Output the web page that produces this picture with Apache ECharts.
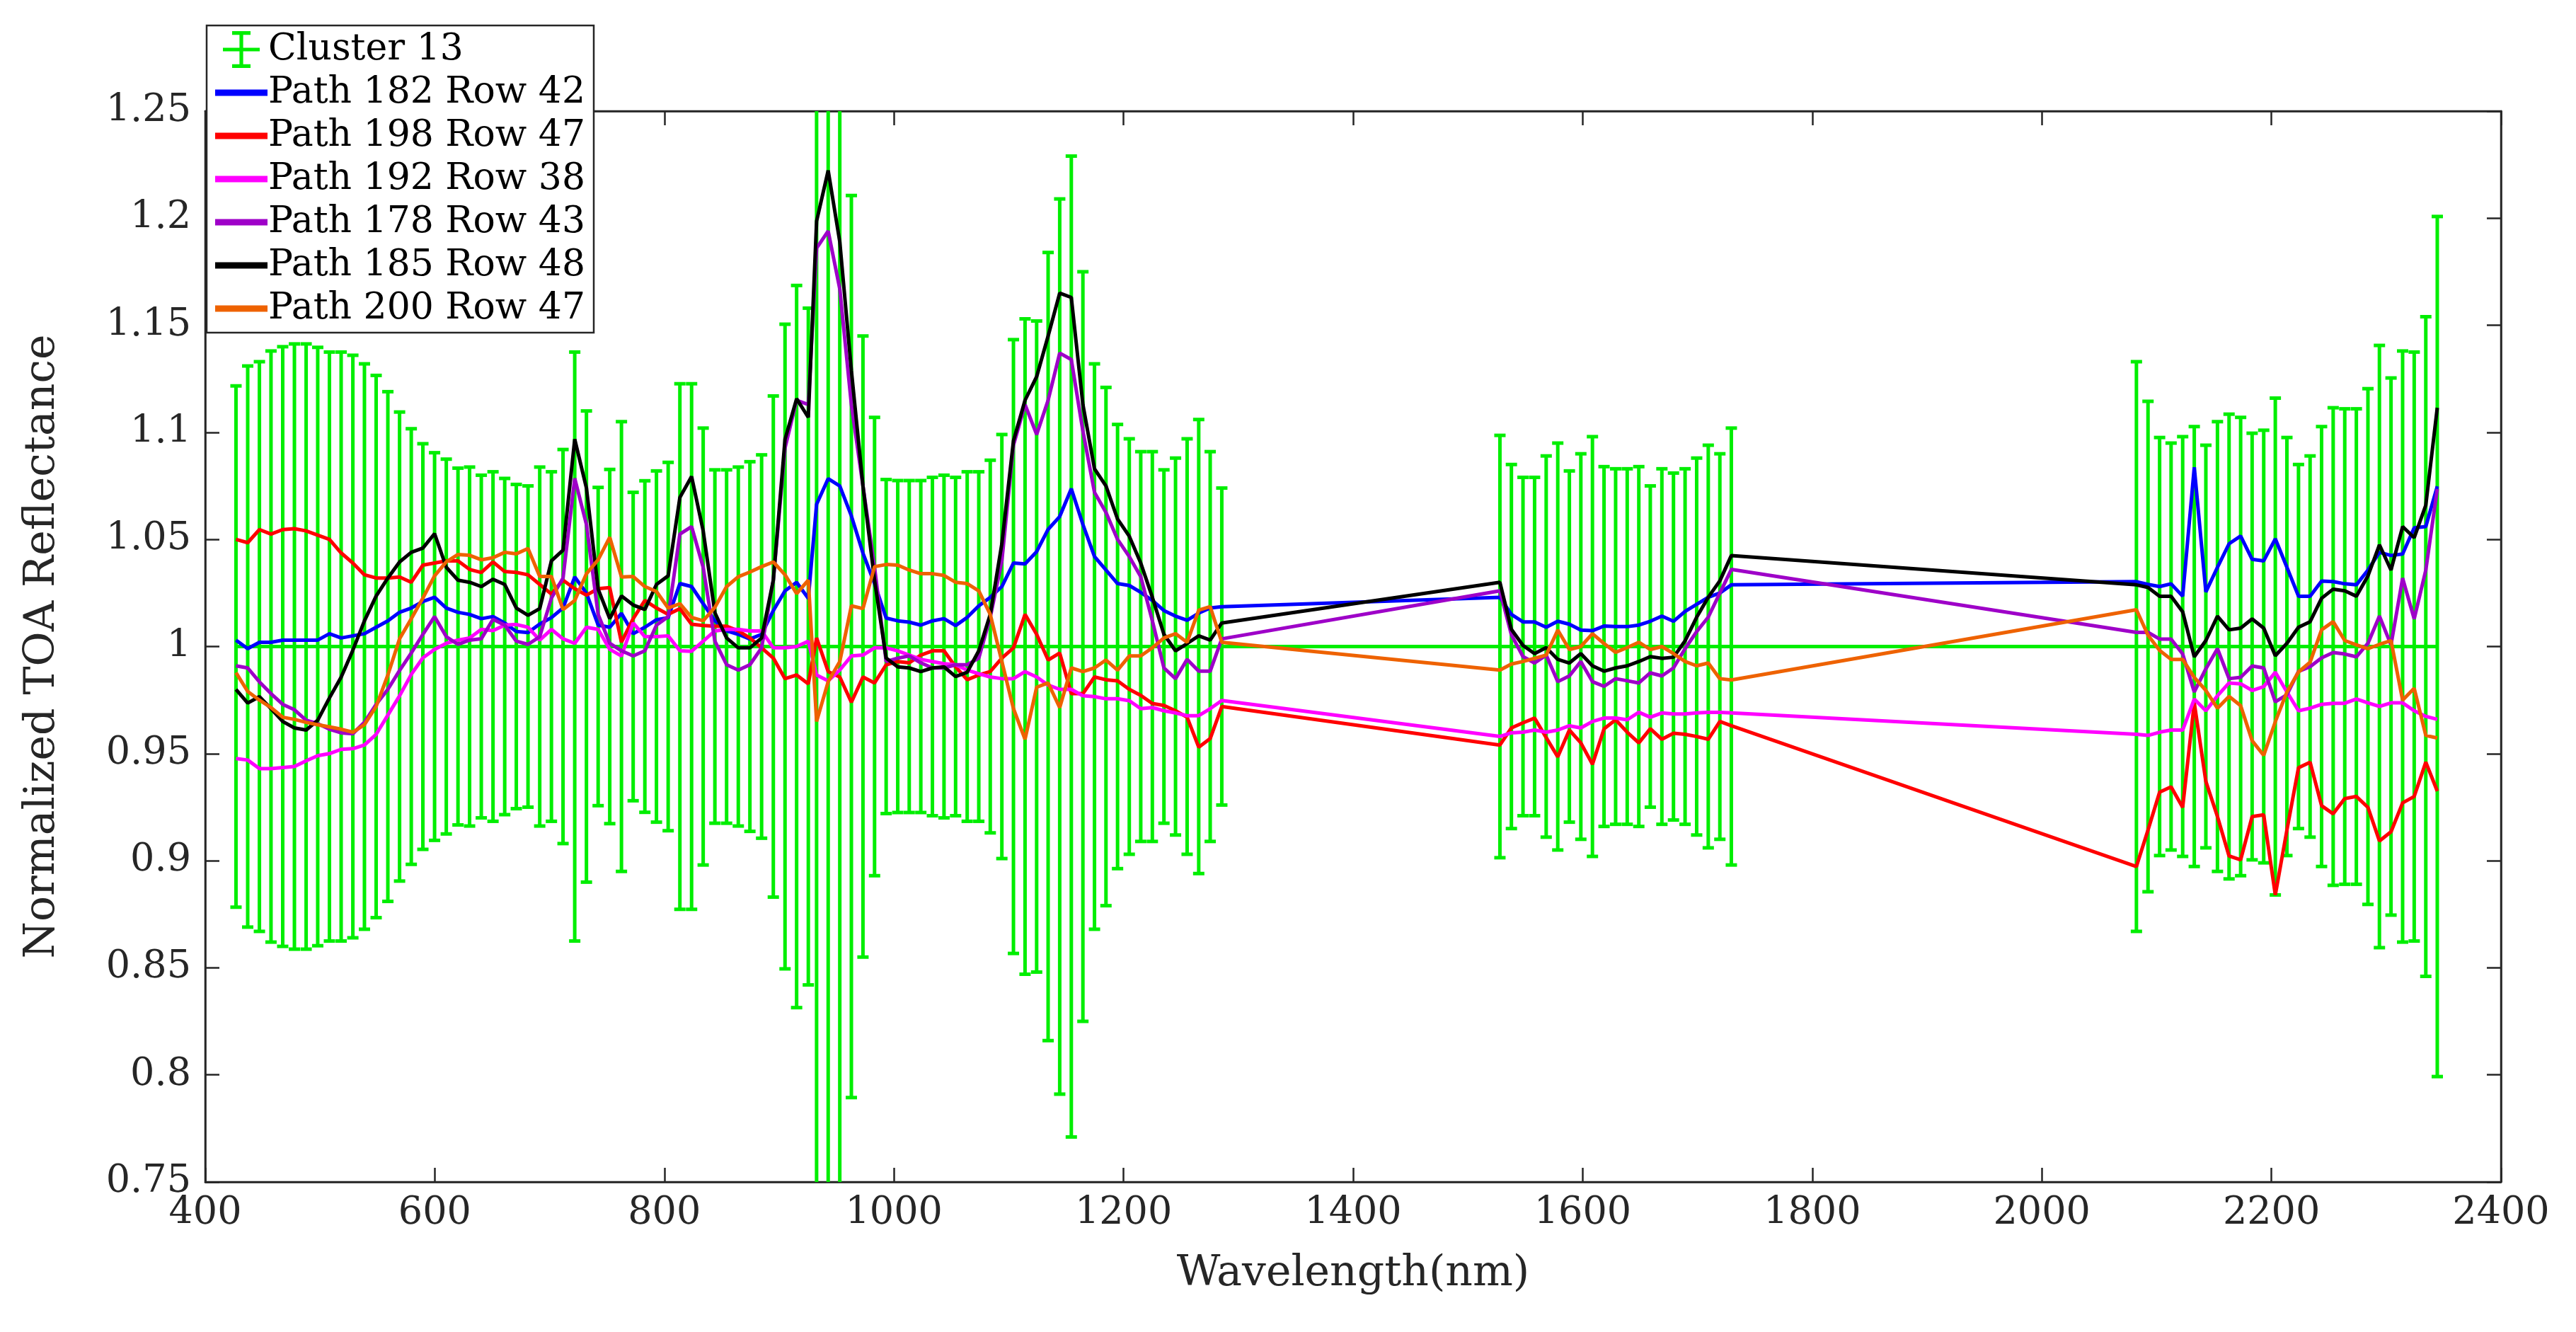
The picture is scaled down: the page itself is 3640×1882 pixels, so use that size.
<!DOCTYPE html>
<html><head><meta charset="utf-8">
<script src="https://cdn.jsdelivr.net/npm/echarts@6/dist/echarts.min.js"></script>
<style>html,body{margin:0;padding:0;background:#fff}#c{width:3640px;height:1882px}</style>
</head><body><div id="c"></div>
<script>
// Wavelengths (nm) of the bands
const wavelengths = [
426.8,437.0,447.2,457.3,467.5,477.7,487.9,498.0,508.2,518.4,528.6,538.7,548.9,559.1,569.3,579.5,589.6,599.8,610.0,620.2,630.3,640.5,650.7,660.9,671.0,681.2,691.4,701.6,711.7,721.9,732.1,742.3,752.4,762.6,772.8,783.0,793.1,803.3,813.5,823.7,833.8,844.0,854.2,864.4,874.5,884.7,894.9,905.1,915.2,925.4,
932.6,942.7,952.8,962.9,973.0,983.1,993.2,1003.3,1013.3,1023.4,1033.5,1043.6,1053.7,1063.8,1073.9,1083.9,1094.0,1104.1,1114.2,1124.3,1134.3,1144.4,1154.5,1164.6,1174.7,1184.7,1194.8,1205.0,1215.0,1225.1,1235.2,1245.3,1255.4,1265.5,1275.5,1285.6,
1527.9,1537.9,1548.0,1558.1,1568.2,1578.3,1588.4,1598.4,1608.5,1618.6,1628.7,1638.8,1648.9,1658.9,1669.0,1679.1,1689.2,1699.3,1709.4,1719.5,1729.5,
2082.4,2092.5,2102.6,2112.6,2122.7,2132.8,2142.9,2153.0,2163.1,2173.2,2183.2,2193.3,2203.4,2213.5,2223.6,2233.7,2243.7,2253.8,2263.9,2274.0,2284.1,2294.1,2304.2,2314.3,2324.4,2334.5,2344.5];

// Cluster 13 mean (normalized) and its standard deviation
const clusterMean = wavelengths.map(() => 1);
const clusterStd = [
.1217,.131,.133,.138,.140,.1413,.1413,.1397,.1375,.1375,.136,.132,.1266,.119,.1095,.1017,.0947,.0905,.0875,.0833,.0838,.080,.0816,.0785,.0757,.075,.0838,.0816,.092,.1375,.110,.0743,.0827,.105,.072,.0774,.082,.086,.1227,.1227,.102,.0825,.0825,.0838,.0863,.0895,.117,.1505,.1686,.158,
.3,.3,.3,.2106,.145,.107,.078,.0775,.0775,.0775,.079,.080,.079,.0816,.0816,.087,.099,.1433,.153,.152,.184,.209,.229,.175,.132,.121,.1037,.097,.091,.091,.0825,.088,.097,.106,.091,.074,
.0986,.085,.079,.079,.089,.095,.082,.090,.098,.084,.083,.083,.084,.075,.083,.081,.083,.088,.094,.090,.102,
.133,.1145,.0976,.095,.098,.1027,.094,.105,.1085,.107,.0996,.101,.116,.0976,.085,.089,.1027,.1115,.111,.111,.1204,.1406,.1254,.138,.1375,.154,.2008];

const path182row42 = [
1.003,0.999,1.002,1.002,1.003,1.003,1.003,1.003,1.006,1.004,1.005,1.006,1.009,1.012,1.016,1.018,1.021,1.023,1.018,1.016,1.015,1.013,1.014,1.011,1.007,1.0065,1.0105,1.0135,1.018,1.0325,1.025,1.01,1.009,1.0155,1.006,1.009,1.0125,1.0135,1.0294,1.028,1.02,1.012,1.0073,1.0057,1.0035,1.0057,1.0168,1.026,1.030,1.0225,
1.0664,1.0784,1.075,1.061,1.0436,1.0294,1.0133,1.012,1.0114,1.010,1.012,1.013,1.0098,1.0136,1.019,1.023,1.028,1.039,1.0386,1.0443,1.0547,1.0607,1.0737,1.057,1.042,1.0357,1.0294,1.0285,1.0253,1.0215,1.0168,1.0142,1.0123,1.0156,1.018,1.0186,
1.023,1.015,1.0115,1.0115,1.009,1.0118,1.0104,1.0077,1.0074,1.0096,1.0093,1.0093,1.010,1.0118,1.0142,1.0118,1.0164,1.0197,1.023,1.025,1.0288,
1.0303,1.029,1.028,1.0293,1.0235,1.0837,1.0255,1.037,1.048,1.0516,1.0407,1.040,1.0503,1.037,1.0235,1.0235,1.0306,1.0303,1.0293,1.0288,1.0357,1.044,1.0425,1.0432,1.0554,1.056,1.0748];

const path198row47 = [
1.05,1.0485,1.0546,1.0525,1.0546,1.055,1.054,1.052,1.05,1.0437,1.039,1.0335,1.032,1.032,1.0325,1.030,1.038,1.039,1.04,1.04,1.036,1.0346,1.0395,1.035,1.0346,1.0335,1.029,1.0245,1.031,1.027,1.024,1.027,1.0275,1.002,1.013,1.0215,1.018,1.015,1.0177,1.0104,1.0098,1.0095,1.0095,1.0073,1.004,0.9994,0.9946,0.985,0.9867,0.9826,
1.004,0.9883,0.9858,0.974,0.9858,0.983,0.9915,0.993,0.9924,0.996,0.998,0.998,0.9905,0.9845,0.9867,0.9883,0.9946,0.9994,1.015,1.0057,0.9937,0.997,0.978,0.978,0.9858,0.9845,0.984,0.980,0.9772,0.9734,0.9725,0.970,0.967,0.953,0.957,0.972,
0.954,0.962,0.9644,0.9666,0.9575,0.9485,0.961,0.955,0.945,0.9616,0.9658,0.960,0.955,0.9616,0.9567,0.9595,0.959,0.958,0.9567,0.965,0.963,
0.8973,0.9143,0.932,0.9345,0.9249,0.9737,0.937,0.9206,0.9022,0.9004,0.9206,0.9214,0.884,0.9143,0.9434,0.946,0.9257,0.9219,0.929,0.930,0.9249,0.9092,0.9135,0.927,0.930,0.946,0.9325];

const path192row38 = [
0.9477,0.947,0.943,0.943,0.9435,0.944,0.9466,0.949,0.950,0.952,0.9523,0.954,0.959,0.968,0.977,0.987,0.9947,0.9987,1.0015,1.003,1.004,1.008,1.0074,1.01,1.0103,1.009,1.003,1.008,1.0036,1.0015,1.009,1.008,0.9987,0.9956,1.011,1.0046,1.0046,1.005,0.998,0.9978,1.0025,1.0073,1.008,1.008,1.0073,1.0073,0.9994,0.9994,1.0,1.0025,
0.9867,0.984,0.989,0.9956,0.996,0.9994,0.9994,0.998,0.996,0.994,0.993,0.992,0.9915,0.989,0.9873,0.9858,0.985,0.985,0.9883,0.9858,0.982,0.980,0.980,0.977,0.9766,0.9756,0.9756,0.9747,0.971,0.9715,0.970,0.969,0.9677,0.9677,0.971,0.9748,
0.958,0.9597,0.960,0.961,0.960,0.961,0.963,0.962,0.965,0.9666,0.9666,0.9658,0.9693,0.967,0.969,0.9685,0.9685,0.969,0.9693,0.9693,0.969,
0.959,0.9585,0.960,0.961,0.961,0.9755,0.970,0.977,0.983,0.9826,0.9795,0.9813,0.988,0.9788,0.970,0.9712,0.973,0.9735,0.9735,0.9755,0.9737,0.972,0.9737,0.9737,0.970,0.9674,0.966];

const path178row43 = [
0.991,0.990,0.9835,0.978,0.973,0.9705,0.9656,0.964,0.9614,0.9597,0.9593,0.9646,0.973,0.980,0.9888,0.997,1.0057,1.014,1.0046,1.001,1.003,1.0036,1.0127,1.01,1.0025,1.001,1.0046,1.0226,1.032,1.0785,1.057,1.015,1.0015,0.998,0.9956,0.998,1.01,1.014,1.0525,1.056,1.037,1.0025,0.9915,0.989,0.9915,0.9994,1.031,1.0927,1.115,1.113,
1.186,1.194,1.167,1.113,1.075,1.037,0.993,0.9946,0.9956,0.9924,0.990,0.990,0.9915,0.9915,0.9946,1.0136,1.040,1.094,1.113,1.099,1.115,1.137,1.134,1.1006,1.072,1.0626,1.05,1.042,1.0326,1.012,0.990,0.985,0.994,0.9885,0.9885,1.0036,
1.026,1.0055,0.9953,0.9923,0.996,0.9836,0.9863,0.993,0.9836,0.9814,0.985,0.984,0.983,0.9877,0.9863,0.990,0.999,1.007,1.0137,1.025,1.036,
1.0066,1.0066,1.0035,1.0035,0.9965,0.9788,0.9896,0.999,0.985,0.9856,0.9909,0.990,0.9742,0.9775,0.9884,0.9906,0.9947,0.9972,0.9965,0.9952,1.0015,1.0142,1.0008,1.0319,1.0129,1.0357,1.0736];

const path185row48 = [
0.98,0.9736,0.9766,0.971,0.965,0.962,0.961,0.9656,0.976,0.9857,0.9983,1.012,1.0236,1.032,1.0395,1.044,1.046,1.0527,1.037,1.031,1.030,1.028,1.0314,1.029,1.018,1.0146,1.0177,1.04,1.045,1.0968,1.074,1.0268,1.013,1.0236,1.0194,1.0173,1.029,1.033,1.0696,1.0794,1.054,1.0158,1.004,0.9994,0.9994,1.004,1.031,1.0968,1.1157,1.107,
1.1986,1.2223,1.189,1.129,1.075,1.031,0.9946,0.9905,0.990,0.9883,0.990,0.9905,0.986,0.988,0.998,1.015,1.048,1.096,1.115,1.126,1.145,1.165,1.163,1.113,1.083,1.075,1.0595,1.0515,1.039,1.023,1.0057,0.998,1.0014,1.005,1.003,1.011,
1.030,1.008,1.0005,0.9967,0.9995,0.994,0.9923,0.9967,0.991,0.9885,0.990,0.991,0.993,0.9953,0.9945,0.995,1.0027,1.0137,1.023,1.0307,1.0425,
1.0288,1.0276,1.0235,1.0235,1.0162,0.9952,1.0028,1.0142,1.0078,1.0086,1.0129,1.0086,0.9957,1.0015,1.009,1.0116,1.0225,1.0268,1.026,1.0235,1.033,1.0475,1.0357,1.056,1.0508,1.066,1.1115];

const path200row47 = [
0.9878,0.979,0.975,0.9715,0.967,0.966,0.9646,0.9635,0.9625,0.9614,0.960,0.9635,0.972,0.9867,1.0036,1.013,1.0226,1.033,1.0395,1.043,1.0426,1.0405,1.0415,1.044,1.0433,1.0458,1.0327,1.0327,1.0173,1.0215,1.034,1.0405,1.051,1.0325,1.0327,1.028,1.0257,1.018,1.02,1.0136,1.012,1.0183,1.028,1.0326,1.0348,1.0373,1.0395,1.0335,1.0247,1.031,
0.965,0.9836,0.993,1.019,1.0177,1.0373,1.0383,1.038,1.0357,1.034,1.034,1.0332,1.030,1.0294,1.026,1.015,0.993,0.971,0.9567,0.981,0.983,0.9715,0.990,0.9883,0.990,0.9937,0.989,0.9956,0.9956,0.9994,1.004,1.006,1.002,1.017,1.0186,1.002,
0.989,0.9918,0.993,0.9945,0.996,1.0077,0.9986,1.0,1.006,1.0014,0.9973,0.9995,1.002,0.9986,1.0,0.9967,0.993,0.991,0.9923,0.985,0.9844,
1.0172,1.0053,0.9982,0.994,0.994,0.9856,0.9795,0.9712,0.9767,0.9724,0.956,0.9492,0.9649,0.9788,0.9881,0.9927,1.0078,1.0116,1.0028,1.0008,0.999,1.001,1.0028,0.975,0.9805,0.9585,0.9573];

const lineSeries = [
  ['Path 182 Row 42', path182row42, '#0000ff'],
  ['Path 198 Row 47', path198row47, '#ff0000'],
  ['Path 192 Row 38', path192row38, '#ff00ff'],
  ['Path 178 Row 43', path178row43, '#9e00c8'],
  ['Path 185 Row 48', path185row48, '#000000'],
  ['Path 200 Row 47', path200row47, '#ee6200']
];
const GREEN = '#00ee00';
const FONT = 'DejaVu Serif';

const chart = echarts.init(document.getElementById('c'));
const errData = wavelengths.map((w,i)=>[w, clusterMean[i], clusterStd[i]]);
const series = [
  { name:'Cluster 13', type:'custom', data: errData, clip:true, z:1, itemStyle:{color:GREEN},
    renderItem:(params, api)=>{
      const x=api.value(0), m=api.value(1), e=api.value(2);
      const lo=api.coord([x,m-e]), hi=api.coord([x,m+e]);
      const hw=8;
      const st={stroke:GREEN, lineWidth:5};
      return {type:'group', children:[
        {type:'line', shape:{x1:lo[0],y1:lo[1],x2:hi[0],y2:hi[1]}, style:st},
        {type:'line', shape:{x1:lo[0]-hw,y1:lo[1],x2:lo[0]+hw,y2:lo[1]}, style:st},
        {type:'line', shape:{x1:hi[0]-hw,y1:hi[1],x2:hi[0]+hw,y2:hi[1]}, style:st}
      ]};
    }},
  { name:'Cluster 13', type:'line', data: wavelengths.map((w,i)=>[w, clusterMean[i]]), showSymbol:false,
    lineStyle:{color:GREEN, width:5}, itemStyle:{color:GREEN}, z:2 }
];
lineSeries.forEach(([n,arr,c],j)=>series.push({
  name:n, type:'line', data: wavelengths.map((w,i)=>[w,arr[i]]), showSymbol:false, clip:true,
  lineStyle:{color:c, width:5}, itemStyle:{color:c}, z:3+j
}));

const lineIcon = 'path://M0,9h20v2.4h-20z';
const errIcon = 'path://M5,0h10v2h-10z M9,0h2v20h-2z M5,18h10v2h-10z M0,9h20v2h-20z';
const AX = '#262626';

chart.setOption({
  animation:false,
  backgroundColor:'#fff',
  grid:{left:290, right:106, top:157, bottom:212, show:true, borderColor:AX, borderWidth:2.5, backgroundColor:'transparent'},
  legend:{
    orient:'vertical', left:292, top:36, itemWidth:74, itemHeight:52, itemGap:9,
    backgroundColor:'#fff', borderColor:AX, borderWidth:2.5, padding:[8,12,8,12],
    textStyle:{fontFamily:FONT, fontSize:52, color:'#000', padding:[0,0,0,-4]},
    data:[{name:'Cluster 13', icon:errIcon}].concat(lineSeries.map(s=>({name:s[0], icon:lineIcon})))
  },
  xAxis:[
    {type:'value', min:400, max:2400, interval:200, name:'Wavelength(nm)', nameLocation:'middle', nameGap:100,
     nameTextStyle:{fontFamily:FONT, fontSize:60, color:AX},
     axisLine:{show:true, lineStyle:{color:AX, width:2.5}},
     axisTick:{inside:true, length:20, lineStyle:{color:AX, width:2.5}},
     axisLabel:{fontFamily:FONT, fontSize:54, color:AX, margin:18, formatter:v=>String(v)}, splitLine:{show:false}},
    {type:'value', position:'top', min:400, max:2400, interval:200,
     axisLine:{show:true, lineStyle:{color:AX, width:2.5}},
     axisTick:{inside:true, length:20, lineStyle:{color:AX, width:2.5}},
     axisLabel:{show:false}, splitLine:{show:false}}
  ],
  yAxis:[
    {type:'value', min:0.75, max:1.25, interval:0.05, name:'Normalized TOA Reflectance', nameLocation:'middle', nameGap:200,
     nameTextStyle:{fontFamily:FONT, fontSize:60, color:AX},
     axisLine:{show:true, lineStyle:{color:AX, width:2.5}},
     axisTick:{inside:true, length:20, lineStyle:{color:AX, width:2.5}},
     axisLabel:{fontFamily:FONT, fontSize:54, color:AX, margin:20, formatter:v=>String(parseFloat(v.toFixed(2)))},
     splitLine:{show:false}},
    {type:'value', position:'right', min:0.75, max:1.25, interval:0.05,
     axisLine:{show:true, lineStyle:{color:AX, width:2.5}},
     axisTick:{inside:true, length:20, lineStyle:{color:AX, width:2.5}},
     axisLabel:{show:false}, splitLine:{show:false}}
  ],
  series: series
});
</script></body></html>
